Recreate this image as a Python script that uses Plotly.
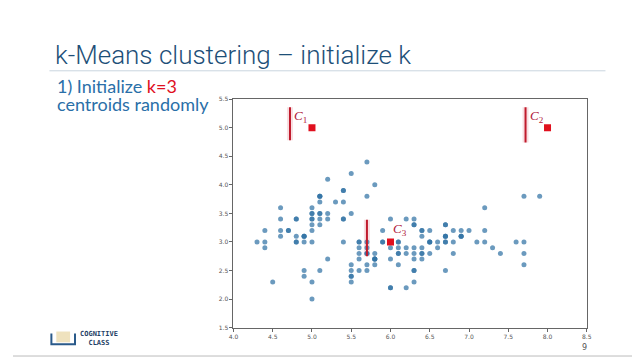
import plotly.graph_objects as go

# Iris sepal length / width as shown
sepal_length = [5.1,4.9,4.7,4.6,5.0,5.4,4.6,5.0,4.4,4.9,5.4,4.8,4.8,4.3,5.8,5.7,5.4,5.1,5.7,5.1,
                5.4,5.1,4.6,5.1,4.8,5.0,5.0,5.2,5.2,4.7,4.8,5.4,5.2,5.5,4.9,5.0,5.5,4.9,4.4,5.1,
                5.0,4.5,4.4,5.0,5.1,4.8,5.1,4.6,5.3,5.0,
                7.0,6.4,6.9,5.5,6.5,5.7,6.3,4.9,6.6,5.2,5.0,5.9,6.0,6.1,5.6,6.7,5.6,5.8,6.2,5.6,
                5.9,6.1,6.3,6.1,6.4,6.6,6.8,6.7,6.0,5.7,5.5,5.5,5.8,6.0,5.4,6.0,6.7,6.3,5.6,5.5,
                5.5,6.1,5.8,5.0,5.6,5.7,5.7,6.2,5.1,5.7,
                6.3,5.8,7.1,6.3,6.5,7.6,4.9,7.3,6.7,7.2,6.5,6.4,6.8,5.7,5.8,6.4,6.5,7.7,7.7,6.0,
                6.9,5.6,7.7,6.3,6.7,7.2,6.2,6.1,6.4,7.2,7.4,7.9,6.4,6.3,6.1,7.7,6.3,6.4,6.0,6.9,
                6.7,6.9,5.8,6.8,6.7,6.7,6.3,6.5,6.2,5.9]
sepal_width = [3.5,3.0,3.2,3.1,3.6,3.9,3.4,3.4,2.9,3.1,3.7,3.4,3.0,3.0,4.0,4.4,3.9,3.5,3.8,3.8,
               3.4,3.7,3.6,3.3,3.4,3.0,3.4,3.5,3.4,3.2,3.1,3.4,4.1,4.2,3.1,3.2,3.5,3.1,3.0,3.4,
               3.5,2.3,3.2,3.5,3.8,3.0,3.8,3.2,3.7,3.3,
               3.2,3.2,3.1,2.3,2.8,2.8,3.3,2.4,2.9,2.7,2.0,3.0,2.2,2.9,2.9,3.1,3.0,2.7,2.2,2.5,
               3.2,2.8,2.5,2.8,2.9,3.0,2.8,3.0,2.9,2.6,2.4,2.4,2.7,2.7,3.0,3.4,3.1,2.3,3.0,2.5,
               2.6,3.0,2.6,2.3,2.7,3.0,2.9,2.9,2.5,2.8,
               3.3,2.7,3.0,2.9,3.0,3.0,2.5,2.9,2.5,3.6,3.2,2.7,3.0,2.5,2.8,3.2,3.0,3.8,2.6,2.2,
               3.2,2.8,2.8,2.7,3.3,3.2,2.8,3.0,2.8,3.0,2.8,3.8,2.8,2.8,2.6,3.0,3.4,3.1,3.0,3.1,
               3.1,3.1,2.7,3.2,3.3,3.0,2.5,3.0,3.4,3.0]

centroid_names = ["1", "2", "3"]
centroid_x = [5.0, 8.0, 6.0]
centroid_y = [5.0, 5.0, 3.0]
# cursor bar (x, y_low, y_high) and label position for each centroid
bar_x = [4.72, 7.72, 5.70]
bar_y0 = [4.78, 4.74, 2.75]
bar_y1 = [5.36, 5.36, 3.39]
label_x = [4.86, 7.86, 6.12]
label_y = [5.19, 5.19, 3.22]

x_ticks = [4.0, 4.5, 5.0, 5.5, 6.0, 6.5, 7.0, 7.5, 8.0, 8.5]
y_ticks = [1.5, 2.0, 2.5, 3.0, 3.5, 4.0, 4.5, 5.0, 5.5]

# page is drawn with an 8px body margin: map screen pixels to paper coords
W, H, OFF = 632, 352, 8
def px(x):
    return (x - OFF) / W
def py(y):
    return 1 - (y - OFF) / H

fig = go.Figure()
fig.add_trace(go.Scatter(x=sepal_length, y=sepal_width, mode="markers",
                         marker=dict(size=5, color="rgba(50,115,165,0.72)", line=dict(width=0)),
                         showlegend=False, hoverinfo="skip"))
fig.add_trace(go.Scatter(x=centroid_x, y=centroid_y, mode="markers",
                         marker=dict(size=7, symbol="square", color="#e0101e", line=dict(width=0)),
                         showlegend=False, hoverinfo="skip"))

for i in range(3):
    fig.add_shape(type="line", xref="x", yref="y", x0=bar_x[i], x1=bar_x[i],
                  y0=bar_y0[i], y1=bar_y1[i], line=dict(color="rgba(240,185,190,0.45)", width=6), layer="below")
    fig.add_shape(type="line", xref="x", yref="y", x0=bar_x[i], x1=bar_x[i],
                  y0=bar_y0[i], y1=bar_y1[i], line=dict(color="#c01a2c", width=2))
    fig.add_annotation(x=label_x[i], y=label_y[i], xref="x", yref="y",
                       text="<i>C</i><sub>" + centroid_names[i] + "</sub>", showarrow=False,
                       font=dict(family="Liberation Serif", size=13, color="#b0203a"))

axis_common = dict(showgrid=False, zeroline=False, showline=True, mirror=True,
                   linecolor="#666666", linewidth=1, ticks="outside", ticklen=3,
                   tickcolor="#666666", tickfont=dict(size=6, color="#555555", family="DejaVu Sans"))
fig.update_xaxes(range=[4.0, 8.5], tickvals=x_ticks, ticktext=[f"{v:.1f}" for v in x_ticks],
                 domain=[px(232), px(591)], **axis_common)
fig.update_yaxes(range=[1.5, 5.5], tickvals=y_ticks, ticktext=[f"{v:.1f}" for v in y_ticks],
                 domain=[py(330), py(97)], **axis_common)

# Slide title
fig.add_annotation(x=px(49), y=py(52), xref="paper", yref="paper", xanchor="left", yanchor="middle",
                   text="k-Means clustering – initialize k", showarrow=False,
                   font=dict(family="Roboto", size=26, color="#1d4f78", weight=300))
fig.add_shape(type="line", xref="paper", yref="paper", x0=px(45), x1=px(610),
              y0=py(68), y1=py(68), line=dict(color="#c9d5df", width=1))
fig.add_annotation(x=px(51), y=py(84), xref="paper", yref="paper", xanchor="left", yanchor="middle",
                   text="1) Initialize <span style='color:#e0101e'>k=3</span>", showarrow=False,
                   font=dict(family="Lato", size=18, color="#2a6fa8"))
fig.add_annotation(x=px(51), y=py(102), xref="paper", yref="paper", xanchor="left", yanchor="middle",
                   text="centroids randomly", showarrow=False,
                   font=dict(family="Lato", size=18, color="#2a6fa8"))
# page number
fig.add_annotation(x=px(589), y=py(350), xref="paper", yref="paper", xanchor="center", yanchor="middle",
                   text="9", showarrow=False, font=dict(family="DejaVu Sans", size=8, color="#555555"))
# logo
fig.add_annotation(x=px(74), y=py(341), xref="paper", yref="paper", xanchor="left", yanchor="middle",
                   text="COGNITIVE<br>  CLASS", showarrow=False, align="left",
                   font=dict(family="DejaVu Sans Mono", size=7, color="#1f3f66", weight="bold"))
fig.add_shape(type="path", xref="paper", yref="paper",
              path=f"M {px(47)} {py(336)} L {px(47)} {py(347)} L {px(71)} {py(347)} L {px(71)} {py(336)}",
              line=dict(color="#2a5a8a", width=2))
fig.add_shape(type="rect", xref="paper", yref="paper", x0=px(52), x1=px(66),
              y0=py(345), y1=py(334), line=dict(width=0),
              fillcolor="rgba(220,190,110,0.45)")
fig.add_shape(type="line", xref="paper", yref="paper", x0=0, x1=1,
              y0=py(359), y1=py(359), line=dict(color="#bbbbbb", width=1))

fig.update_layout(width=W, height=H, margin=dict(l=0, r=0, t=0, b=0),
                  plot_bgcolor="white", paper_bgcolor="white")
fig.write_html("out.html")
